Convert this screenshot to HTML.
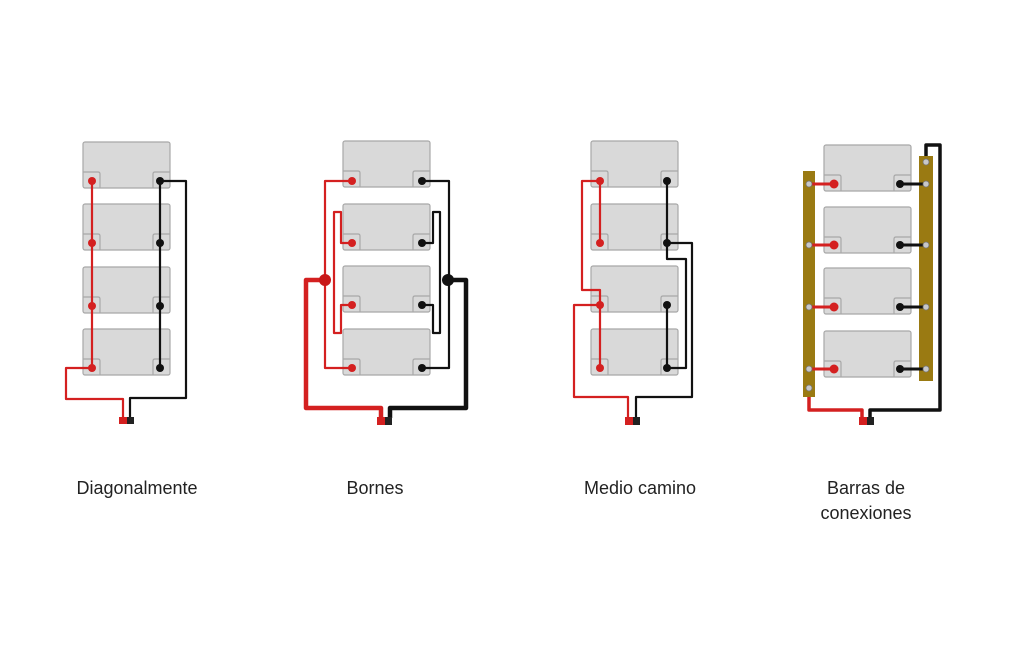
<!DOCTYPE html>
<html><head><meta charset="utf-8"><style>
html,body{margin:0;padding:0;background:#fff;}
svg{display:block;}
text{font-family:"Liberation Sans",sans-serif;font-size:18px;fill:#222;}
</style></head><body>
<svg width="1024" height="655" viewBox="0 0 1024 655" xmlns="http://www.w3.org/2000/svg">
<defs>
<g id="bat">
<rect x="0" y="0" width="87" height="46" rx="2" fill="#d9d9d9" stroke="#a8a8a8" stroke-width="1.2"/>
<path d="M0 30 H15 Q17 30 17 32 V46" fill="none" stroke="#a8a8a8" stroke-width="1.2"/>
<path d="M87 30 H72 Q70 30 70 32 V46" fill="none" stroke="#a8a8a8" stroke-width="1.2"/>
</g>
</defs>
<rect width="1024" height="655" fill="#fff"/>

<!-- Diagram 1 -->
<use href="#bat" x="83" y="142"/><use href="#bat" x="83" y="204"/><use href="#bat" x="83" y="267"/><use href="#bat" x="83" y="329"/>
<g fill="none" stroke-width="2.2" stroke-linejoin="round">
<path d="M92 181 V368 H66 V399 H123 V418" stroke="#d42020"/>
<path d="M160 181 V368 M160 181 H186 V398 H130 V418" stroke="#111"/>
</g>
<g fill="#d42020"><circle cx="92" cy="181" r="4"/><circle cx="92" cy="243" r="4"/><circle cx="92" cy="306" r="4"/><circle cx="92" cy="368" r="4"/></g>
<g fill="#111"><circle cx="160" cy="181" r="4"/><circle cx="160" cy="243" r="4"/><circle cx="160" cy="306" r="4"/><circle cx="160" cy="368" r="4"/></g>
<rect x="119" y="417" width="8" height="7" fill="#d42020"/><rect x="127" y="417" width="7" height="7" fill="#222"/>

<!-- Diagram 2 -->
<use href="#bat" x="343" y="141"/><use href="#bat" x="343" y="204"/><use href="#bat" x="343" y="266"/><use href="#bat" x="343" y="329"/>
<g fill="none" stroke-width="2.2" stroke-linejoin="round">
<path d="M352 181 H325 V368 H352" stroke="#d42020"/>
<path d="M352 243 H341 V212 H334 V333 H341 V305 H352" stroke="#d42020"/>
<path d="M323 280 H306 V408 H381 V418" stroke="#d42020" stroke-width="4.5"/>
<path d="M422 181 H449 V368 H422" stroke="#111"/>
<path d="M422 243 H433 V212 H440 V333 H433 V305 H422" stroke="#111"/>
<path d="M448 280 H466 V408 H390 V418" stroke="#111" stroke-width="4.5"/>
</g>
<circle cx="325" cy="280" r="6" fill="#c81818"/><circle cx="448" cy="280" r="6" fill="#111"/>
<g fill="#d42020"><circle cx="352" cy="181" r="4"/><circle cx="352" cy="243" r="4"/><circle cx="352" cy="305" r="4"/><circle cx="352" cy="368" r="4"/></g>
<g fill="#111"><circle cx="422" cy="181" r="4"/><circle cx="422" cy="243" r="4"/><circle cx="422" cy="305" r="4"/><circle cx="422" cy="368" r="4"/></g>
<rect x="377" y="417" width="8" height="8" fill="#d42020"/><rect x="385" y="417" width="7" height="8" fill="#222"/>

<!-- Diagram 3 -->
<use href="#bat" x="591" y="141"/><use href="#bat" x="591" y="204"/><use href="#bat" x="591" y="266"/><use href="#bat" x="591" y="329"/>
<g fill="none" stroke-width="2.2" stroke-linejoin="round">
<path d="M600 181 V243 M600 181 H582 V290 H600 V368 M600 305 H574 V397 H628 V418" stroke="#d42020"/>
<path d="M667 181 V243 H692 V397 H636 V418 M667 243 V259 H686 V368 H667 M667 305 V368" stroke="#111"/>
</g>
<g fill="#d42020"><circle cx="600" cy="181" r="4"/><circle cx="600" cy="243" r="4"/><circle cx="600" cy="305" r="4"/><circle cx="600" cy="368" r="4"/></g>
<g fill="#111"><circle cx="667" cy="181" r="4"/><circle cx="667" cy="243" r="4"/><circle cx="667" cy="305" r="4"/><circle cx="667" cy="368" r="4"/></g>
<rect x="625" y="417" width="8" height="8" fill="#d42020"/><rect x="633" y="417" width="7" height="8" fill="#222"/>

<!-- Diagram 4 -->
<use href="#bat" x="824" y="145"/><use href="#bat" x="824" y="207"/><use href="#bat" x="824" y="268"/><use href="#bat" x="824" y="331"/>
<g fill="none" stroke-linejoin="round">
<path d="M809 395 V410 H862 V418" stroke="#d42020" stroke-width="3.5"/>
<path d="M926 158 V145 H940 V410 H870 V418" stroke="#111" stroke-width="3.5"/>
</g>
<rect x="803" y="171" width="12" height="226" fill="#9a7a12"/>
<rect x="919" y="156" width="14" height="225" fill="#9a7a12"/>
<g stroke="#d42020" stroke-width="3"><path d="M809 184 H834 M809 245 H834 M809 307 H834 M809 369 H834"/></g>
<g stroke="#111" stroke-width="3"><path d="M900 184 H926 M900 245 H926 M900 307 H926 M900 369 H926"/></g>
<g fill="#d42020"><circle cx="834" cy="184" r="4.5"/><circle cx="834" cy="245" r="4.5"/><circle cx="834" cy="307" r="4.5"/><circle cx="834" cy="369" r="4.5"/></g>
<g fill="#111"><circle cx="900" cy="184" r="4"/><circle cx="900" cy="245" r="4"/><circle cx="900" cy="307" r="4"/><circle cx="900" cy="369" r="4"/></g>
<g fill="#c8c8c8" stroke="#777" stroke-width="0.8">
<circle cx="809" cy="184" r="3"/><circle cx="809" cy="245" r="3"/><circle cx="809" cy="307" r="3"/><circle cx="809" cy="369" r="3"/><circle cx="809" cy="388" r="3"/>
<circle cx="926" cy="162" r="3"/><circle cx="926" cy="184" r="3"/><circle cx="926" cy="245" r="3"/><circle cx="926" cy="307" r="3"/><circle cx="926" cy="369" r="3"/>
</g>
<rect x="859" y="417" width="8" height="8" fill="#d42020"/><rect x="867" y="417" width="7" height="8" fill="#222"/>

<!-- Labels -->
<text x="137" y="494" text-anchor="middle">Diagonalmente</text>
<text x="375" y="494" text-anchor="middle">Bornes</text>
<text x="640" y="494" text-anchor="middle">Medio camino</text>
<text x="866" y="494" text-anchor="middle">Barras de</text>
<text x="866" y="519" text-anchor="middle">conexiones</text>
</svg>
</body></html>
